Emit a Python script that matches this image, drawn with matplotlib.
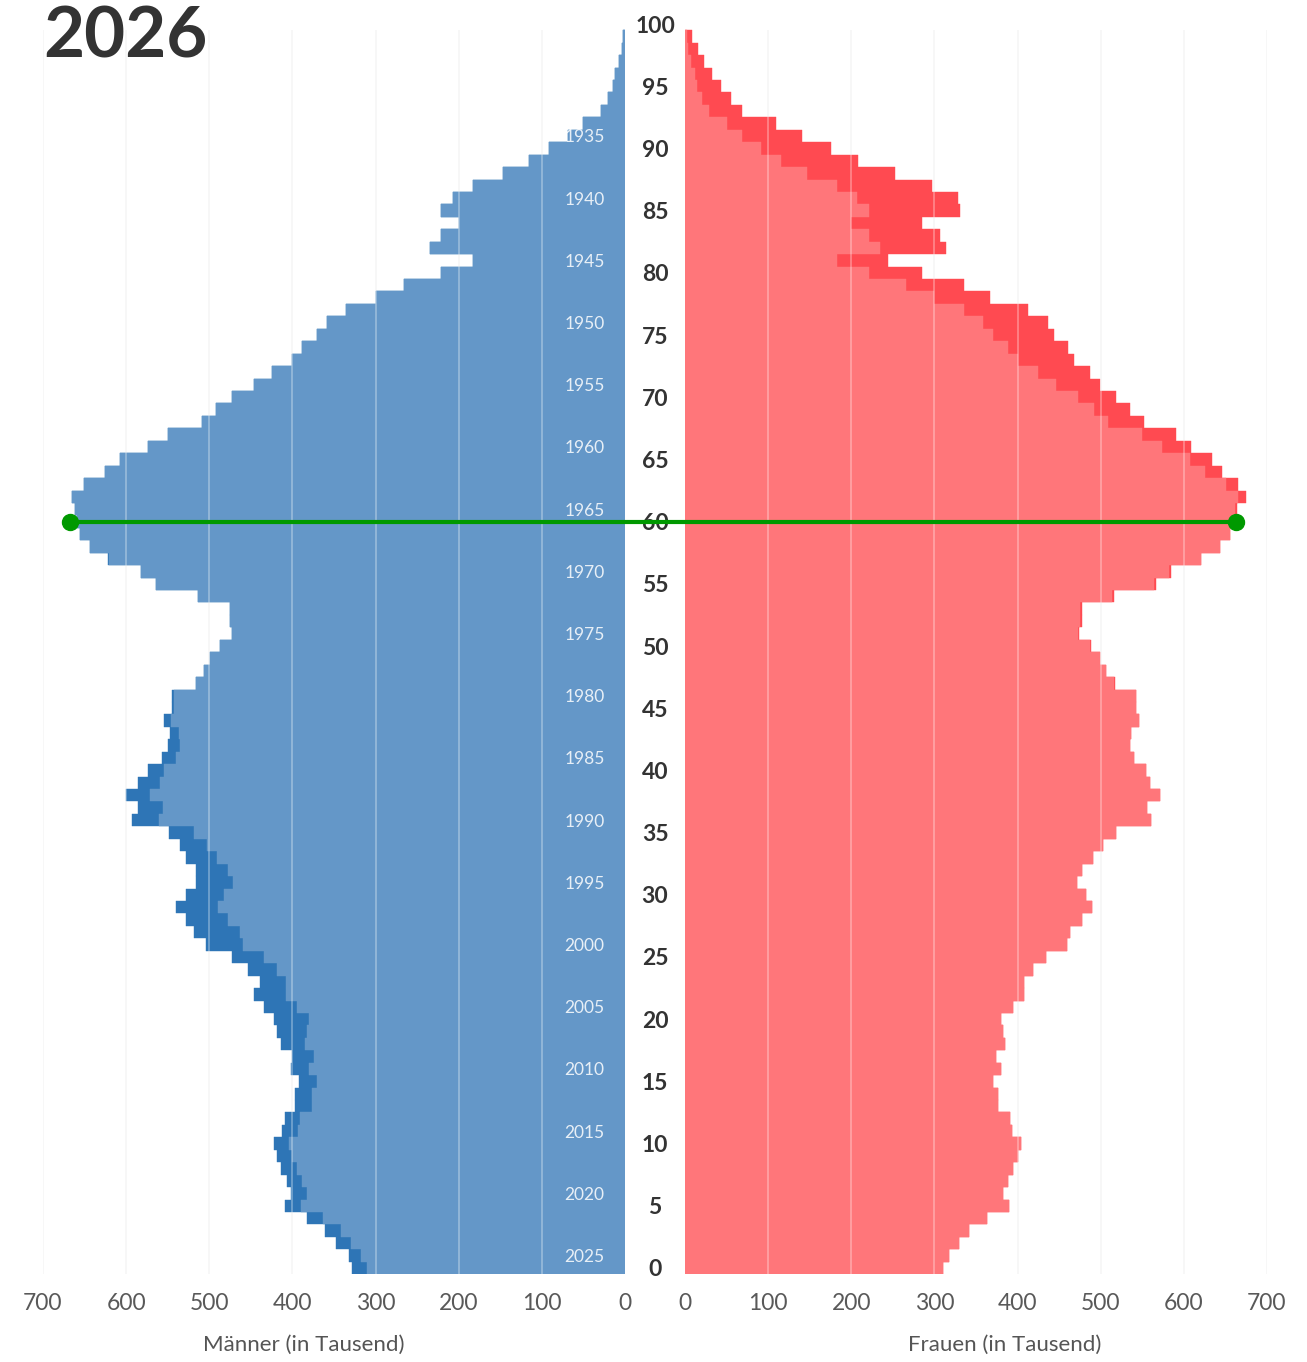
import numpy as np
import matplotlib
matplotlib.use("Agg")
import matplotlib.pyplot as plt
from matplotlib.lines import Line2D

plt.rcParams["font.family"] = ["Lato", "DejaVu Sans"]

YEAR = 2026
AGES = list(range(100))
# population in thousands, ages 0..99
MEN = [328, 332, 347, 361, 383, 409, 402, 407, 414, 419,
       422, 412, 409, 397, 397, 392, 402, 400, 414, 419,
       422, 434, 446, 439, 453, 473, 504, 518, 528, 540,
       528, 516, 516, 528, 535, 548, 593, 586, 600, 586,
       574, 557, 550, 547, 555, 545, 545, 516, 506, 499,
       487, 473, 475, 475, 514, 564, 582, 622, 644, 656,
       659, 661, 665, 651, 625, 607, 574, 550, 509, 492,
       473, 446, 424, 400, 388, 371, 359, 336, 299, 266,
       221, 183, 234, 221, 200, 221, 207, 183, 147, 115,
       91, 69, 50, 29, 21, 14, 12, 7.5, 4, 2]
WOMEN = [310, 318, 329, 342, 363, 390, 383, 388, 395, 400,
         404, 393, 391, 376, 376, 371, 380, 374, 385, 383,
         380, 395, 408, 408, 419, 434, 460, 463, 477, 489,
         482, 472, 478, 491, 503, 518, 561, 556, 571, 559,
         554, 540, 535, 537, 546, 542, 542, 517, 506, 499,
         488, 474, 477, 477, 516, 567, 584, 621, 644, 656,
         660, 664, 675, 665, 646, 634, 609, 591, 552, 535,
         518, 499, 487, 468, 461, 444, 437, 413, 367, 336,
         285, 244, 314, 307, 285, 331, 328, 297, 252, 208,
         175, 141, 109, 69, 55, 43, 33, 23, 16, 9]
BIRTH_YEARS = list(range(1935, 2026, 5))
AGE_TICKS = list(range(0, 101, 5))
X_TICKS = list(range(0, 701, 100))
MARKER_AGE = 60
MARKER_MEN = 667
MARKER_WOMEN = 663

C_MEN_LIGHT = "#6497c8"
C_MEN_DARK = "#2e75b6"
C_WOMEN_LIGHT = "#ff767a"
C_WOMEN_DARK = "#ff4a51"

W_PX, H_PX = 1307, 1362
fig = plt.figure(figsize=(W_PX / 100, H_PX / 100), dpi=100)

bottom = (H_PX - 1274.2) / H_PX
height = 1256.4 / H_PX
ax_m = fig.add_axes([43 / W_PX, bottom, 582 / W_PX, height])
ax_w = fig.add_axes([685 / W_PX, bottom, 582 / W_PX, height])

common = np.minimum(MEN, WOMEN)

for ax, vals, dark, light in [(ax_m, MEN, C_MEN_DARK, C_MEN_LIGHT),
                              (ax_w, WOMEN, C_WOMEN_DARK, C_WOMEN_LIGHT)]:
    ax.barh(AGES, vals, height=1.0, color=dark, edgecolor=dark, linewidth=0.3, zorder=1)
    ax.barh(AGES, common, height=1.0, color=light, edgecolor=light, linewidth=0.3, zorder=2)
    for v in X_TICKS[1:]:
        ax.vlines(v, -0.5, 99.5, color="#f3f3f3", lw=1.2, zorder=0)
        ax.vlines(v, -0.5, 99.5, color="white", alpha=0.35, lw=1.2, zorder=3)
    ax.set_ylim(-0.5, 100.5)
    ax.set_yticks([])
    ax.set_xticks(X_TICKS)
    ax.tick_params(axis="x", length=0, pad=13.5, labelsize=16.5, labelcolor="#595959")
    for s in ax.spines.values():
        s.set_visible(False)

ax_m.set_xlim(700, 0)
ax_w.set_xlim(0, 700)

for a in AGE_TICKS:
    ax_w.text(-36, a, str(a), ha="center", va="center_baseline", fontsize=16.5,
              fontweight="bold", color="#333333", clip_on=False)

for y in BIRTH_YEARS:
    ax_m.text(48.6, YEAR - y, str(y), ha="center", va="center_baseline",
              fontsize=12.5, color="white", alpha=0.85, zorder=4)

# green marker line across both halves
inv = fig.transFigure.inverted()
p1 = inv.transform(ax_m.transData.transform((MARKER_MEN, MARKER_AGE)))
p2 = inv.transform(ax_w.transData.transform((MARKER_WOMEN, MARKER_AGE)))
fig.add_artist(Line2D([p1[0], p2[0]], [p1[1], p2[1]], transform=fig.transFigure,
                      color="#009900", lw=3, marker="o", markersize=11.5, zorder=10))

fig.text(43 / W_PX, 1 - 58 / H_PX, str(YEAR), ha="left", va="baseline",
         fontsize=51, fontweight="bold", color="#333333")
fig.text(304 / W_PX, 1 - 1351 / H_PX, "Männer (in Tausend)", ha="center",
         va="baseline", fontsize=16, color="#555555")
fig.text(1005 / W_PX, 1 - 1351 / H_PX, "Frauen (in Tausend)", ha="center",
         va="baseline", fontsize=16, color="#555555")

fig.savefig("out.png", dpi=100)
